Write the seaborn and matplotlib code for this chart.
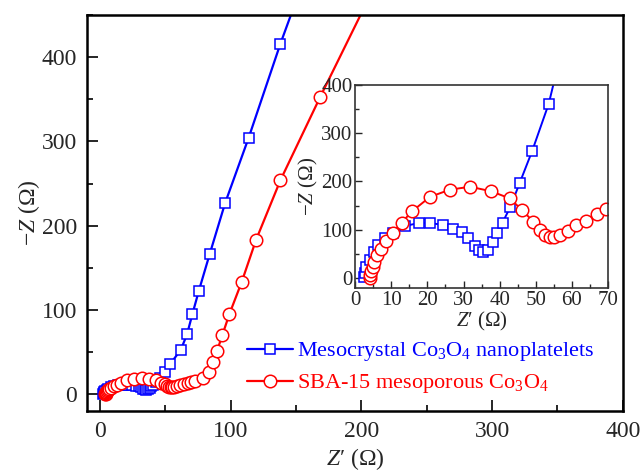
import matplotlib
matplotlib.use("Agg")
import matplotlib.pyplot as plt
from matplotlib.ticker import MultipleLocator
import seaborn as sns

# Nyquist data, main panel (Z' and -Z'' in Ohm)
meso_x = [2.4, 2.7, 3.0, 4.0, 5.3, 6.4, 8.3, 10.6, 13.8, 17.7, 20.7, 24.4, 27.2, 29.5,
          31.3, 33.1, 34.3, 35.4, 36.8, 38.2, 39.2, 40.8, 43.0, 45.5, 49.6, 53.7, 61.8,
          66.5, 70.6, 75.6, 83.8, 95.7, 113.6, 138.0, 146.0]
meso_y = [0.3, 1.0, 2.4, 3.7, 5.5, 6.8, 8.2, 9.4, 10.8, 11.4, 11.4, 11.0, 10.2, 9.6,
          8.2, 6.7, 5.8, 5.5, 5.8, 7.4, 9.3, 11.5, 14.8, 19.6, 27, 36, 53,
          71, 95, 123, 166, 227, 304, 416, 450]

sba_x = [4.0, 4.2, 4.4, 4.8, 5.1, 6.0, 7.1, 8.6, 10.4, 12.9, 15.7, 20.7, 26.2, 31.8,
         37.5, 42.8, 46.3, 49.3, 51.1, 52.5, 54.0, 55.0, 56.6, 58.8, 61.2, 64.0, 67.0,
         69.3, 72.3, 78.5, 83.2, 86.3, 89.4, 93.5, 98.9, 108.3, 119.3, 138.0, 168.5, 199.3]
sba_y = [0.1, 0.7, 1.4, 2.4, 3.4, 4.8, 6.0, 7.6, 9.3, 11.5, 13.8, 16.8, 18.3, 18.9,
         18.0, 16.5, 14.0, 11.7, 10.0, 8.9, 8.6, 8.5, 9.0, 9.7, 11.0, 11.9, 13.3,
         14.2, 15.5, 19, 27, 38, 51, 70, 95, 133, 183, 254, 353, 450]

# inset (high-frequency region)
ins_meso_x = [2.4, 2.7, 3.0, 4.0, 5.3, 6.4, 8.3, 10.6, 13.8, 17.7, 20.7, 24.4, 27.2, 29.5,
              31.3, 33.1, 34.3, 35.4, 36.8, 38.2, 39.2, 40.8, 43.0, 45.5, 49.0, 53.6, 55.5]
ins_meso_y = [3, 10, 24, 37, 55, 68, 82, 94, 108, 114, 114, 110, 102, 96,
              82, 67, 58, 55, 58, 74, 93, 115, 148, 196, 263, 361, 420]

ins_sba_x = [4.0, 4.2, 4.4, 4.8, 5.1, 6.0, 7.1, 8.6, 10.4, 12.9, 15.7, 20.7, 26.2, 31.8,
             37.5, 42.8, 46.3, 49.3, 51.1, 52.5, 54.0, 55.0, 56.6, 58.8, 61.2, 64.0, 67.0, 69.5]
ins_sba_y = [1, 7, 14, 24, 34, 48, 60, 76, 93, 115, 138, 168, 183, 189,
             180, 165, 140, 117, 100, 89, 86, 85, 90, 97, 110, 119, 133, 142]

labels = ["Mesocrystal Co$_3$O$_4$ nanoplatelets", "SBA-15 mesoporous Co$_3$O$_4$"]

sns.set_theme(style="ticks")
plt.rcParams["font.family"] = ["Liberation Serif", "DejaVu Serif"]
plt.rcParams["mathtext.fontset"] = "custom"
plt.rcParams["mathtext.rm"] = "Liberation Serif"
plt.rcParams["mathtext.it"] = "Liberation Serif:italic"

fig = plt.figure(figsize=(6.4, 4.71), dpi=100)
ax = fig.add_axes([0.136, 0.127, 0.837, 0.841])

sq = dict(marker="s", markersize=7.5, markerfacecolor="white", markeredgewidth=1.1)
ci = dict(marker="o", markersize=9, markerfacecolor="white", markeredgewidth=1.1)

sns.lineplot(x=meso_x, y=meso_y, sort=False, estimator=None, ax=ax, color="#0000ff",
             markeredgecolor="#0000ff", linewidth=1.6, label=labels[0],
             markevery=list(range(len(meso_x) - 1)), **sq)
sns.lineplot(x=sba_x, y=sba_y, sort=False, estimator=None, ax=ax, color="#ff0000",
             markeredgecolor="#ff0000", linewidth=1.6, label=labels[1],
             markevery=list(range(len(sba_x) - 1)), **ci)

ax.set_xlim(-10, 400)
ax.set_ylim(-20, 450)
ax.xaxis.set_major_locator(MultipleLocator(100))
ax.xaxis.set_minor_locator(MultipleLocator(50))
ax.yaxis.set_major_locator(MultipleLocator(100))
ax.yaxis.set_minor_locator(MultipleLocator(50))
ax.tick_params(which="both", direction="in", width=1.4, labelsize=17, pad=7)
ax.tick_params(which="major", length=8)
ax.tick_params(which="minor", length=4.5)
for s in ax.spines.values():
    s.set_linewidth(1.8)
    s.set_color("black")
ax.set_xlabel("$Z$′ (Ω)", fontsize=17, labelpad=3)
ax.set_ylabel("−$Z$ (Ω)", fontsize=17, labelpad=0)

leg = ax.legend(loc="lower left", bbox_to_anchor=(0.298, 0.04), frameon=False,
                fontsize=16, handlelength=2.1, handletextpad=0.15, labelspacing=0.4,
                borderpad=0, borderaxespad=0, numpoints=1)
for txt, c in zip(leg.get_texts(), ["#0000ff", "#ff0000"]):
    txt.set_color(c)

# inset
ins = fig.add_axes([0.555, 0.389, 0.395, 0.431])
sns.lineplot(x=ins_meso_x, y=ins_meso_y, sort=False, estimator=None, ax=ins,
             color="#0000ff", markeredgecolor="#0000ff", linewidth=1.4, **sq)
sns.lineplot(x=ins_sba_x, y=ins_sba_y, sort=False, estimator=None, ax=ins,
             color="#ff0000", markeredgecolor="#ff0000", linewidth=1.4, **ci)
ins.set_xlim(0, 70)
ins.set_ylim(-20, 400)
ins.xaxis.set_major_locator(MultipleLocator(10))
ins.xaxis.set_minor_locator(MultipleLocator(5))
ins.yaxis.set_major_locator(MultipleLocator(100))
ins.yaxis.set_minor_locator(MultipleLocator(50))
ins.tick_params(which="both", direction="in", width=1.0, labelsize=15, pad=2)
ins.tick_params(which="major", length=5)
ins.tick_params(which="minor", length=3)
for s in ins.spines.values():
    s.set_linewidth(1.2)
    s.set_color("#333333")
ins.set_xlabel("$Z$′ (Ω)", fontsize=15, labelpad=0)
ins.set_ylabel("−$Z$ (Ω)", fontsize=15, labelpad=1)

fig.savefig("out.png", dpi=100)
